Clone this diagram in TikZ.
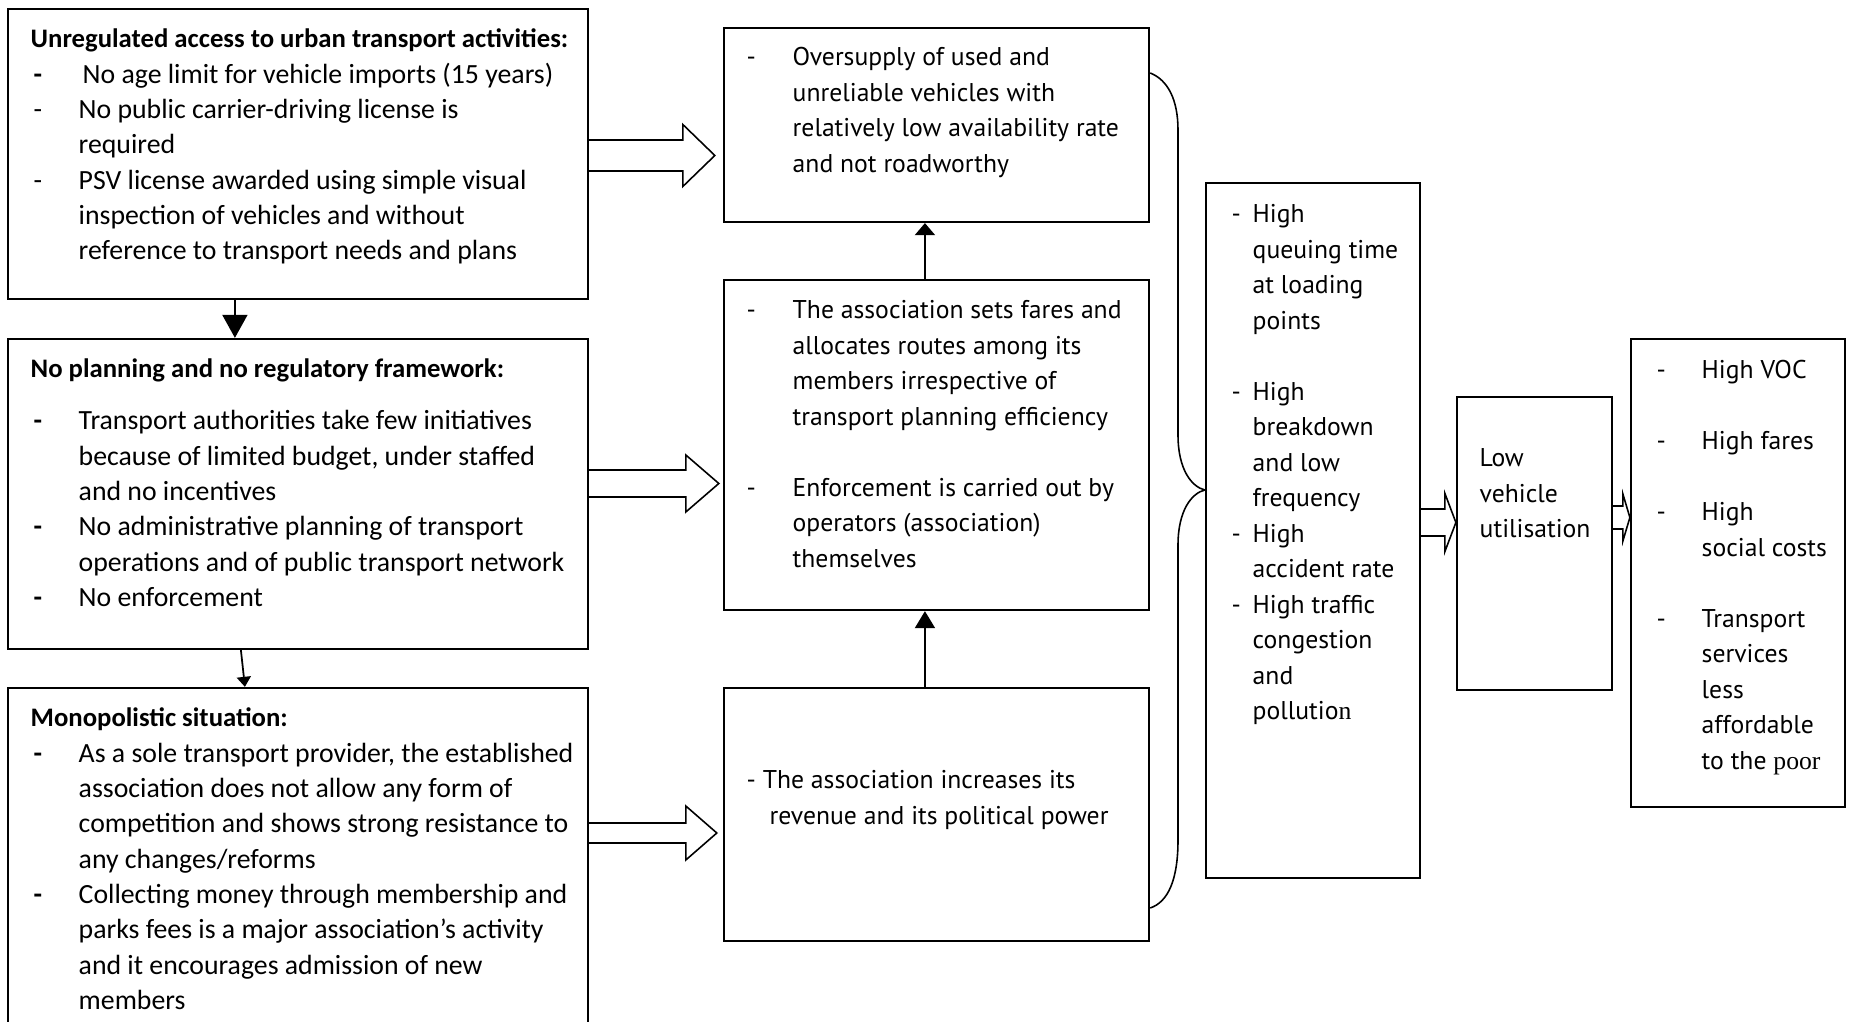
\documentclass[tikz,border=0pt]{standalone}
\usepackage{fontspec}
\setmainfont{Carlito}
\newfontfamily\ptsans{PT Sans}
\newfontfamily\tnr{Liberation Serif}
\usetikzlibrary{arrows.meta, calc}
\newcommand{\headfnt}{\bfseries\fontsize{7.6}{10.05}\selectfont}
\newcommand{\ldash}[1][\bfseries]{\makebox[0.48cm][l]{\hspace{0.03cm}{#1-}}}
\newcommand{\lind}{\hspace*{0.48cm}}
\newcommand{\itemdash}[1]{\makebox[#1][l]{-}}
\newcommand{\itemgap}[1]{\hspace*{#1}}
% open block arrow: start, tip, half shaft, half head, head length
\newcommand{\hollowarrow}[5]{%
  \draw[hollow] ($(#1)+(0,-#3)$) -- ($(#2)+(-#5,-#3)$) -- ($(#2)+(-#5,-#4)$) -- (#2)
    -- ($(#2)+(-#5,#4)$) -- ($(#2)+(-#5,#3)$) -- ($(#1)+(0,#3)$);}

\begin{document}
\begin{tikzpicture}[
  x=0.01cm, y=-0.01cm,
  box/.style={draw, line width=0.6pt, inner sep=0pt},
  lefttxt/.style={inner sep=0pt, anchor=north west, align=left, font=\fontsize{7.9}{10.05}\selectfont},
  midtxt/.style={inner sep=0pt, anchor=north west, align=left, font=\ptsans\fontsize{7.3}{10.1}\selectfont},
  hollow/.style={draw, line width=0.45pt, line join=miter},
  upline/.style={draw, line width=0.5pt}
]
  \useasboundingbox (0,0) rectangle (1851,1022);

  % Causes (left column)
  \node[box, minimum width=5.80cm, minimum height=2.90cm] (unreg) at (298,154) {};
  \node[box, minimum width=5.80cm, minimum height=3.10cm] (noplan) at (298,494) {};
  \node[box, minimum width=5.80cm, minimum height=3.47cm] (mono) at (298,861.5) {};

  \node[lefttxt] (unregtxt) at (30,22.3) {\strut{\headfnt Unregulated access to urban transport activities:}\\
    \ldash\hspace{0.04cm}No age limit for vehicle imports (15 years)\\
    \ldash[]No public carrier-driving license is\\
    \lind required\\
    \ldash[]PSV license awarded using simple visual\\
    \lind inspection of vehicles and without\\
    \lind reference to transport needs and plans};
  \node[lefttxt] (noplantxt) at (30,352.3) {\strut{\headfnt No planning and no regulatory framework:}\\[0.167cm]
    \ldash Transport authorities take few initiatives\\
    \lind because of limited budget, under staffed\\
    \lind and no incentives\\
    \ldash No administrative planning of transport\\
    \lind operations and of public transport network\\
    \ldash No enforcement};
  \node[lefttxt] (monotxt) at (30,701.3) {\strut{\headfnt Monopolistic situation:}\\
    \ldash As a sole transport provider, the established\\
    \lind association does not allow any form of\\
    \lind competition and shows strong resistance to\\
    \lind any changes/reforms\\
    \ldash Collecting money through membership and\\
    \lind parks fees is a major association's activity\\
    \lind and it encourages admission of new\\
    \lind members};

  % Consequences (middle column)
  \node[box, minimum width=4.25cm, minimum height=1.94cm] (oversup) at (936.5,125) {};
  \node[box, minimum width=4.25cm, minimum height=3.30cm] (fares) at (936.5,445) {};
  \node[box, minimum width=4.25cm, minimum height=2.53cm] (revenue) at (936.5,814.5) {};

  \node[midtxt] (oversuptxt) at (746,40.1) {\strut\itemdash{0.46cm}Oversupply of used and\\
    \itemgap{0.46cm}unreliable vehicles with\\
    \itemgap{0.46cm}relatively low availability rate\\
    \itemgap{0.46cm}and not roadworthy};
  \node[midtxt] (farestxt) at (746,293.1) {\strut\itemdash{0.46cm}The association sets fares and\\
    \itemgap{0.46cm}allocates routes among its\\
    \itemgap{0.46cm}members irrespective of\\
    \itemgap{0.46cm}transport planning efficiency\\[\baselineskip]
    \itemdash{0.46cm}Enforcement is carried out by\\
    \itemgap{0.46cm}operators (association)\\
    \itemgap{0.46cm}themselves};
  \node[midtxt] (revenuetxt) at (746,763.1) {\strut- The association increases its\\
    \itemgap{0.23cm}revenue and its political power};

  % Effects (right columns)
  \node[box, minimum width=2.14cm, minimum height=6.95cm] (effects) at (1313,530.5) {};
  \node[box, minimum width=1.55cm, minimum height=2.93cm] (lowuse) at (1534.5,543.5) {};
  \node[box, minimum width=2.14cm, minimum height=4.68cm] (costs) at (1738,573) {};

  \node[midtxt] (effectstxt) at (1231,197.1) {\strut\itemdash{0.21cm}High\\
    \itemgap{0.21cm}queuing time\\
    \itemgap{0.21cm}at loading\\
    \itemgap{0.21cm}points\\[\baselineskip]
    \itemdash{0.21cm}High\\
    \itemgap{0.21cm}breakdown\\
    \itemgap{0.21cm}and low\\
    \itemgap{0.21cm}frequency\\
    \itemdash{0.21cm}High\\
    \itemgap{0.21cm}accident rate\\
    \itemdash{0.21cm}High traffic\\
    \itemgap{0.21cm}congestion\\
    \itemgap{0.21cm}and\\
    \itemgap{0.21cm}pollutio{\tnr n}};
  \node[midtxt] (lowusetxt) at (1479,441.1) {\strut Low\\ vehicle\\ utilisation};
  \node[midtxt] (coststxt) at (1656,353.1) {\strut\itemdash{0.45cm}High VOC\\[\baselineskip]
    \itemdash{0.45cm}High fares\\[\baselineskip]
    \itemdash{0.45cm}High\\
    \itemgap{0.45cm}social costs\\[\baselineskip]
    \itemdash{0.45cm}Transport\\
    \itemgap{0.45cm}services\\
    \itemgap{0.45cm}less\\
    \itemgap{0.45cm}affordable\\
    \itemgap{0.45cm}to the {\tnr poor}};

  % Vertical links
  \draw[upline, -{Triangle[width=2.5mm, length=2.3mm]}] ([xshift=2.28cm]unreg.south west) -- ([xshift=2.28cm]noplan.north west);
  \draw[upline, -{Triangle[width=1.4mm, length=1.0mm]}] ([xshift=2.34cm]noplan.south west) -- ([xshift=2.38cm]mono.north west);
  \draw[upline, -{Triangle[width=2mm, length=1.7mm]}] ([xshift=2.02cm]revenue.north west) -- ([xshift=2.02cm]fares.south west);
  \draw[upline, -{Triangle[width=2mm, length=1.2mm]}] ([xshift=2.02cm]fares.north west) -- ([xshift=2.02cm]oversup.south west);

  % Block arrows
  \coordinate (a1s) at (unreg.east |- 0,155.5);
  \coordinate (a1e) at ($(oversup.west |- 0,155.5)+(-8,0)$);
  \coordinate (a2s) at (noplan.east |- 0,483.5);
  \coordinate (a2e) at ($(fares.west |- 0,483.5)+(-4,0)$);
  \coordinate (a3s) at (mono.east |- 0,833);
  \coordinate (a3e) at ($(revenue.west |- 0,833)+(-6,0)$);
  \coordinate (a4s) at (effects.east |- 0,522.5);
  \coordinate (a4e) at (lowuse.west |- 0,522.5);
  \coordinate (a5s) at (lowuse.east |- 0,517.5);
  \coordinate (a5e) at (costs.west |- 0,517.5);
  \hollowarrow{a1s}{a1e}{15.5}{31}{32}
  \hollowarrow{a2s}{a2e}{13.5}{28.5}{33}
  \hollowarrow{a3s}{a3e}{10}{27}{31}
  \hollowarrow{a4s}{a4e}{13.5}{29}{11}
  \hollowarrow{a5s}{a5e}{11.5}{23.5}{7}

  % Brace gathering the middle column
  \draw[line width=0.45pt] (oversup.east |- 0,73) .. controls (1168,80) and (1178,100) .. (1178,130)
    -- (1178,435) .. controls (1178,470) and (1192,487) .. (effects.west |- 0,490)
    .. controls (1192,493) and (1178,510) .. (1178,545)
    -- (1178,840) .. controls (1178,880) and (1168,902) .. (revenue.east |- 0,908);
\end{tikzpicture}
\end{document}
